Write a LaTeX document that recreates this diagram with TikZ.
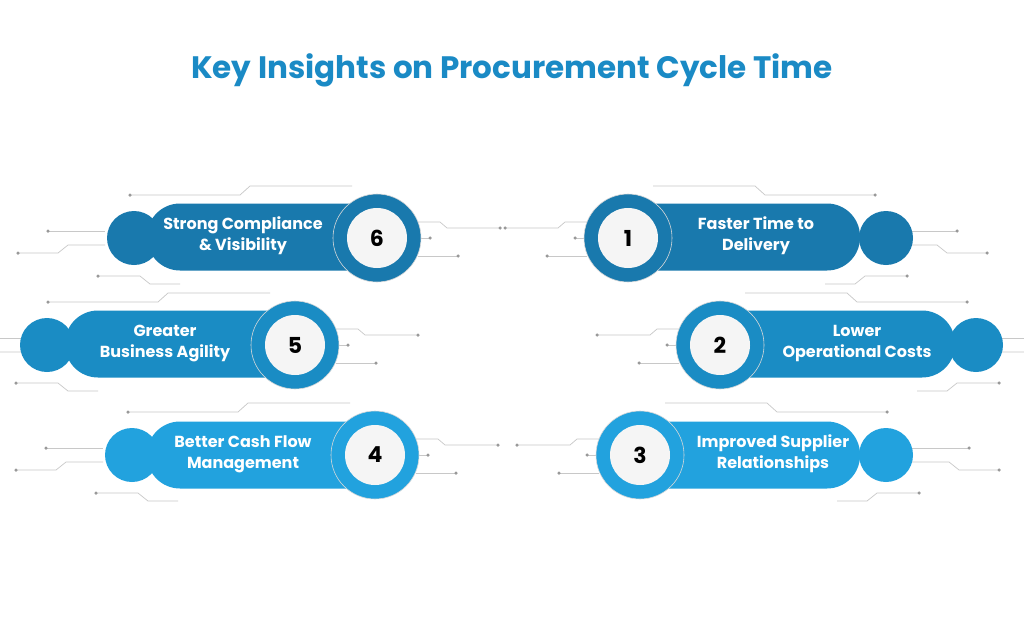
\documentclass[tikz,border=0pt]{standalone}
\usepackage{fontspec}
\setmainfont{Poppins}
\usetikzlibrary{positioning}
\definecolor{titleblue}{HTML}{1A8AC5}
\definecolor{darkblue}{HTML}{1979AD}
\definecolor{midblue}{HTML}{1A8CC4}
\definecolor{lightblue}{HTML}{22A2DE}
\definecolor{tracegray}{HTML}{C8C8C8}
\tikzset{
  x=1pt, y=-1pt, % pixel-like units, y downwards
  bar/.style={fill=#1, rounded corners=33pt, minimum width=250pt, minimum height=67pt, inner sep=0pt},
  knob/.style={circle, fill=#1, minimum size=54pt, inner sep=0pt},
  ring/.style={circle, fill=#1, draw=white!85!black, line width=0.6pt, minimum size=88pt, inner sep=0pt},
  dial/.style={circle, fill=white!96!black, minimum size=60pt, inner sep=0pt, font=\fontsize{22}{22}\selectfont\bfseries},
  label/.style={text=white, align=center, font=\fontsize{16}{21}\selectfont\bfseries},
  trace/.style={draw=tracegray, line width=0.7pt},
  dot/.style={circle, fill=gray!80, minimum size=3.5pt, inner sep=0pt},
}
% circuit traces around one item, relative to its dial
\newcommand{\traces}{%
  \draw[trace] (-247,-43) -- (-137,-43) -- (-127,-52) -- (-25,-52);
  \draw[trace] (-329,-7) -- (-272,-7);
  \draw[trace] (-359,15) -- (-319,15) -- (-309,7) -- (-272,7);
  \draw[trace] (-279,38) -- (-237,38) -- (-227,46) -- (-197,46);
  \draw[trace] (41,-16) -- (63,-16) -- (70,-10) -- (123,-10);
  \draw[trace] (41,0) -- (53,0);
  \draw[trace] (41,18) -- (81,18);
  \foreach \p in {(-247,-43),(-329,-7),(-359,15),(-279,38),(123,-10),(53,0),(81,18)}
    \node[dot] at \p {};
}
\begin{document}
\begin{tikzpicture}
  \useasboundingbox[fill=white] (0,0) rectangle (1024,627);
  \node[text=titleblue, font=\fontsize{31}{34}\selectfont\bfseries] (title) at (512,70) {Key Insights on Procurement Cycle Time};

  % traces
  \begin{scope}[shift={(377,238)}] \traces \end{scope}
  \begin{scope}[shift={(295,345)}] \traces \end{scope}
  \begin{scope}[shift={(375,455)}] \traces \end{scope}
  \begin{scope}[shift={(628,238)}, xscale=-1] \traces \end{scope}
  \begin{scope}[shift={(720,345)}, xscale=-1] \traces \end{scope}
  \begin{scope}[shift={(640,455)}, xscale=-1] \traces \end{scope}

  % left column
  \node[knob=darkblue] (k6) at (134,238) {};
  \node[bar=darkblue] (b6) at (272,237) {};
  \node[label] (t6) at (243,236) {Strong Compliance\\\& Visibility};
  \node[ring=darkblue] (r6) at (377,238) {};
  \node[dial] (d6) at (r6) {6};

  \node[knob=midblue] (k5) at (47,345) {};
  \node[bar=midblue] (b5) at (190,344) {};
  \node[label] (t5) at (165,344) {Greater\\Business Agility};
  \node[ring=midblue] (r5) at (295,345) {};
  \node[dial] (d5) at (r5) {5};

  \node[knob=lightblue] (k4) at (132,455) {};
  \node[bar=lightblue] (b4) at (272,455) {};
  \node[label] (t4) at (243,454) {Better Cash Flow\\Management};
  \node[ring=lightblue] (r4) at (375,455) {};
  \node[dial] (d4) at (r4) {4};

  % right column
  \node[knob=darkblue] (k1) at (886,238) {};
  \node[bar=darkblue] (b1) at (735,237) {};
  \node[label] (t1) at (756,236) {Faster Time to\\Delivery};
  \node[ring=darkblue] (r1) at (628,238) {};
  \node[dial] (d1) at (r1) {1};

  \node[knob=midblue] (k2) at (976,345) {};
  \node[bar=midblue] (b2) at (830,344) {};
  \node[label] (t2) at (857,344) {Lower\\Operational Costs};
  \node[ring=midblue] (r2) at (720,345) {};
  \node[dial] (d2) at (r2) {2};

  \node[knob=lightblue] (k3) at (886,455) {};
  \node[bar=lightblue] (b3) at (735,455) {};
  \node[label] (t3) at (773,454) {Improved Supplier\\Relationships};
  \node[ring=lightblue] (r3) at (640,455) {};
  \node[dial] (d3) at (r3) {3};
\end{tikzpicture}
\end{document}
